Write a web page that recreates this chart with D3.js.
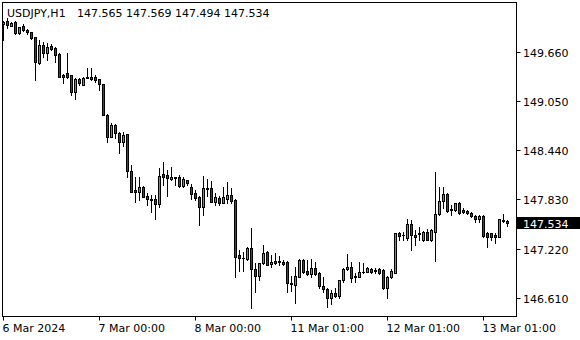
<!DOCTYPE html>
<html>
<head>
<meta charset="utf-8">
<script src="https://cdn.jsdelivr.net/npm/d3@7"></script>
<style>
    body { margin: 0; background: #fff; }
    text { font-family: "DejaVu Sans", sans-serif; font-size: 11px; }
</style>
</head>
<body>
<div id="chart"></div>
<script>

var symbol = "USDJPY,H1";

// H1 bars, 6 Mar 00:00 .. 13 Mar 07:00
var opens = [
    150.005, 150.049, 149.987, 150.037, 149.893, 149.983, 149.934, 149.905, 149.843, 149.520,
    149.747, 149.644, 149.735, 149.706, 149.636, 149.371, 149.396, 149.371, 149.168, 149.325,
    149.251, 149.346, 149.354, 149.354, 149.322, 149.260, 148.878, 148.609, 148.754, 148.659,
    148.547, 148.639, 148.187, 147.948, 147.927, 147.989, 147.873, 147.832, 147.832, 147.770,
    148.146, 148.134, 148.080, 148.105, 148.105, 148.001, 148.072, 147.989, 147.914, 147.864,
    147.740, 147.969, 147.969, 147.802, 147.845, 147.790, 147.836, 147.882, 147.823, 147.141,
    147.107, 147.087, 147.224, 146.963, 146.884, 147.038, 147.182, 147.025, 147.066, 147.050,
    147.058, 147.058, 146.797, 146.768, 146.871, 147.079, 146.946, 146.905, 146.976, 146.921,
    146.756, 146.715, 146.611, 146.673, 146.636, 146.830, 146.963, 146.988, 146.880, 146.871,
    146.934, 146.934, 146.963, 146.955, 146.963, 146.955, 146.727, 146.871, 146.921, 147.418,
    147.389, 147.348, 147.522, 147.389, 147.410, 147.327, 147.430, 147.327, 147.430, 147.646,
    147.811, 147.898, 147.708, 147.699, 147.790, 147.699, 147.687, 147.666, 147.625, 147.584,
    147.625, 147.418, 147.410, 147.389, 147.368, 147.571, 147.565
];
var highs = [
    150.046, 150.079, 150.037, 150.046, 149.975, 150.008, 149.942, 149.912, 149.850, 149.809,
    149.788, 149.768, 149.760, 149.726, 149.644, 149.387, 149.644, 149.375, 149.334, 149.342,
    149.346, 149.466, 149.458, 149.375, 149.325, 149.267, 148.891, 148.783, 148.767, 148.671,
    148.671, 148.645, 148.258, 148.105, 148.105, 147.997, 147.906, 147.885, 147.885, 148.217,
    148.291, 148.196, 148.229, 148.113, 148.134, 148.113, 148.076, 148.022, 147.948, 147.873,
    148.121, 148.080, 148.059, 147.906, 147.873, 147.981, 148.047, 147.969, 147.836, 147.203,
    147.182, 147.236, 147.472, 147.038, 147.041, 147.265, 147.194, 147.141, 147.162, 147.128,
    147.079, 147.062, 146.880, 146.995, 147.087, 147.087, 147.079, 147.087, 147.058, 146.926,
    146.871, 146.727, 146.706, 146.727, 146.830, 146.976, 147.153, 147.050, 146.914, 147.058,
    147.045, 146.988, 146.976, 146.976, 146.976, 146.971, 146.880, 146.963, 147.418, 147.430,
    147.430, 147.588, 147.575, 147.451, 147.485, 147.435, 147.460, 147.460, 148.167, 147.989,
    147.989, 147.914, 147.761, 147.790, 147.802, 147.720, 147.699, 147.678, 147.637, 147.637,
    147.637, 147.430, 147.418, 147.410, 147.584, 147.646, 147.569
];
var lows = [
    149.809, 149.955, 149.983, 149.880, 149.888, 149.925, 149.880, 149.818, 149.313, 149.515,
    149.602, 149.561, 149.685, 149.540, 149.346, 149.272, 149.334, 149.127, 149.081, 149.251,
    149.247, 149.334, 149.313, 149.292, 149.189, 148.878, 148.547, 148.602, 148.589, 148.403,
    148.494, 148.113, 147.923, 147.802, 147.823, 147.861, 147.761, 147.678, 147.584, 147.733,
    148.010, 147.873, 148.072, 148.010, 147.989, 147.989, 148.010, 147.836, 147.823, 147.513,
    147.637, 147.873, 147.799, 147.761, 147.761, 147.786, 147.790, 147.790, 146.871, 146.946,
    146.946, 147.082, 146.479, 146.685, 146.830, 147.033, 147.013, 146.988, 147.033, 147.017,
    147.013, 146.685, 146.694, 146.541, 146.868, 146.914, 146.892, 146.871, 146.892, 146.727,
    146.685, 146.492, 146.533, 146.623, 146.611, 146.809, 146.958, 146.809, 146.809, 146.868,
    146.914, 146.930, 146.914, 146.914, 146.905, 146.722, 146.611, 146.851, 146.917, 147.327,
    147.327, 147.327, 147.203, 147.265, 147.327, 147.314, 147.323, 147.314, 147.070, 147.637,
    147.720, 147.678, 147.637, 147.691, 147.650, 147.658, 147.650, 147.616, 147.554, 147.554,
    147.368, 147.244, 147.327, 147.286, 147.364, 147.554, 147.494
];
var closes = [
    150.037, 149.992, 150.024, 149.893, 149.967, 149.930, 149.905, 149.838, 149.533, 149.747,
    149.644, 149.726, 149.698, 149.623, 149.354, 149.354, 149.354, 149.168, 149.322, 149.272,
    149.334, 149.334, 149.325, 149.313, 149.260, 148.882, 148.609, 148.754, 148.659, 148.547,
    148.630, 148.187, 147.927, 147.927, 147.981, 147.864, 147.832, 147.827, 147.770, 148.121,
    148.113, 148.093, 148.105, 148.100, 148.001, 148.080, 148.038, 147.898, 147.852, 147.740,
    147.969, 147.956, 147.802, 147.857, 147.790, 147.857, 147.885, 147.815, 147.120, 147.100,
    147.100, 147.224, 146.963, 146.884, 147.038, 147.169, 147.017, 147.058, 147.038, 147.066,
    147.025, 146.797, 146.777, 146.880, 147.079, 146.934, 146.905, 146.976, 146.905, 146.756,
    146.715, 146.611, 146.673, 146.636, 146.827, 146.963, 146.988, 146.851, 146.864, 146.934,
    146.926, 146.976, 146.934, 146.942, 146.914, 146.727, 146.871, 146.946, 147.410, 147.377,
    147.385, 147.522, 147.389, 147.360, 147.405, 147.430, 147.327, 147.451, 147.646, 147.811,
    147.898, 147.691, 147.696, 147.782, 147.666, 147.678, 147.658, 147.625, 147.584, 147.625,
    147.377, 147.368, 147.368, 147.360, 147.584, 147.566, 147.534
];

var timeTickIdx = [0, 24, 48, 72, 96, 120];
var timeTickLabels = ["6 Mar 2024", "7 Mar 00:00", "8 Mar 00:00",
                      "11 Mar 01:00", "12 Mar 01:00", "13 Mar 01:00"];
var priceTicks = [146.610, 147.220, 147.830, 148.440, 149.050, 149.660];

var chart = {
    svgWidth: 580,
    svgHeight: 340,
    plot: {"left": 2.5, "top": 2.5, "right": 516.5, "bottom": 316.5},
    barStep: 4,
    bullColor: "#00e000",
    bearColor: "#e00000",
};

var n = closes.length;
var last = n - 1;
var fmt = d3.format(".3f");

var svg = d3.select("#chart").append("svg")
    .attr("width", chart.svgWidth)
    .attr("height", chart.svgHeight);

var xScale = d3.scaleLinear()
    .domain([0, last])
    .range([3, 3 + chart.barStep * last]);

// 146.610 sits at y 297.7, 149.660 at y 52
var yScale = d3.scaleLinear()
    .domain([146.610, 149.660])
    .range([297.7, 52.0]);

var px = v => Math.round(yScale(v));
var cx = i => Math.round(xScale(i)) + 0.5;

svg.append("clipPath").attr("id", "plotClip")
    .append("rect")
    .attr("x", chart.plot.left).attr("y", chart.plot.top)
    .attr("width", chart.plot.right - chart.plot.left)
    .attr("height", chart.plot.bottom - chart.plot.top);

var bars = d3.range(n).map(i => ({
    i: i, o: opens[i], h: highs[i], l: lows[i], c: closes[i]
}));

var candles = svg.append("g")
    .attr("clip-path", "url(#plotClip)")
    .selectAll("g.candle")
    .data(bars)
    .enter().append("g")
    .attr("class", "candle");

// wicks
candles.append("rect")
    .attr("x", d => cx(d.i) - 0.5)
    .attr("y", d => px(d.h))
    .attr("width", 1)
    .attr("height", d => px(d.l) - px(d.h) + 1)
    .attr("fill", "#000");

// bodies
candles.each(function(d) {
    var top = px(Math.max(d.o, d.c));
    var bot = px(Math.min(d.o, d.c));
    var g = d3.select(this);
    if (bot - top < 1) {
        g.append("rect")
            .attr("x", cx(d.i) - 1.5).attr("y", top)
            .attr("width", 3).attr("height", 1)
            .attr("fill", "#000");
    } else {
        g.append("rect")
            .attr("x", cx(d.i) - 1).attr("y", top + 0.5)
            .attr("width", 2).attr("height", bot - top)
            .attr("fill", d.c >= d.o ? chart.bullColor : chart.bearColor)
            .attr("stroke", "#000")
            .attr("stroke-width", 1);
    }
});

// frame
svg.append("rect")
    .attr("x", chart.plot.left).attr("y", chart.plot.top)
    .attr("width", chart.plot.right - chart.plot.left)
    .attr("height", chart.plot.bottom - chart.plot.top)
    .attr("fill", "none")
    .attr("stroke", "#000");

// price axis
var yTicks = svg.append("g").attr("class", "yAxis")
    .selectAll("g").data(priceTicks).enter().append("g");

yTicks.append("line")
    .attr("x1", chart.plot.right).attr("x2", chart.plot.right + 4)
    .attr("y1", d => px(d) + 0.5).attr("y2", d => px(d) + 0.5)
    .attr("stroke", "#000");

yTicks.append("text")
    .attr("x", 523)
    .attr("y", d => px(d) + 4.5)
    .attr("fill", "#000")
    .text(d => fmt(d));

// current price label
var lastY = px(closes[last]);
svg.append("rect")
    .attr("x", 517).attr("y", lastY - 6)
    .attr("width", 63).attr("height", 12)
    .attr("fill", "#000");
svg.append("text")
    .attr("x", 523).attr("y", lastY + 4.5)
    .attr("fill", "#fff")
    .text(fmt(closes[last]));

// time axis
var xTicks = svg.append("g").attr("class", "xAxis")
    .selectAll("g").data(timeTickIdx).enter().append("g");

xTicks.append("line")
    .attr("x1", d => cx(d)).attr("x2", d => cx(d))
    .attr("y1", chart.plot.bottom).attr("y2", chart.plot.bottom + 4)
    .attr("stroke", "#000");

xTicks.append("text")
    .attr("x", d => cx(d) - 1)
    .attr("y", 332)
    .attr("fill", "#000")
    .text((d, i) => timeTickLabels[i]);

// header
svg.append("text")
    .attr("x", 7).attr("y", 17)
    .attr("fill", "#000")
    .text(symbol);

svg.append("text")
    .attr("x", 77).attr("y", 17)
    .attr("fill", "#000")
    .text([opens[last], highs[last], lows[last], closes[last]].map(fmt).join(" "));

</script>
</body>
</html>
